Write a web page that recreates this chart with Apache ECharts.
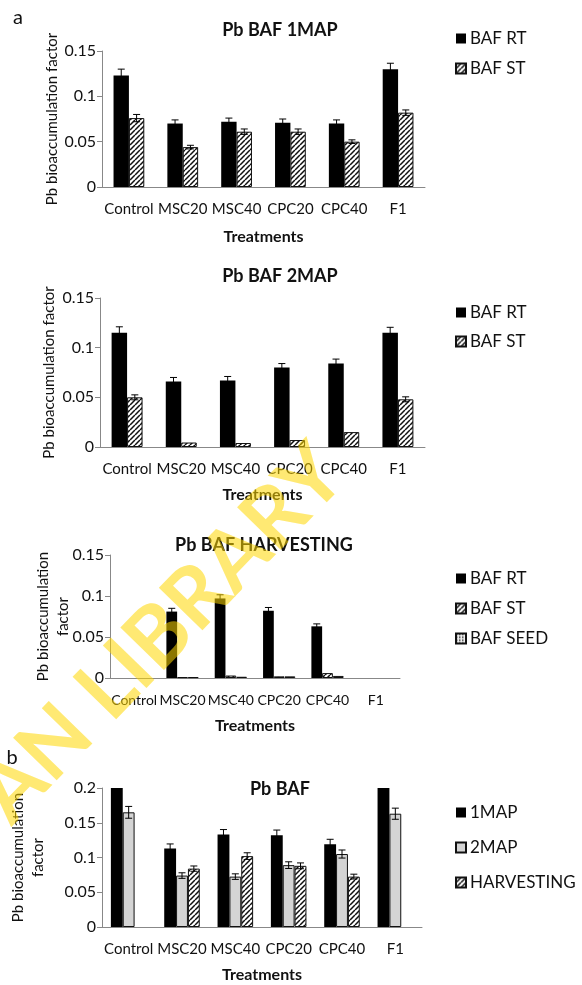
<!DOCTYPE html>
<html><head><meta charset="utf-8">
<script src="https://cdn.jsdelivr.net/npm/echarts/dist/echarts.min.js"></script>
<style>html,body{margin:0;padding:0;background:#fff}#c{width:582px;height:985px}</style>
</head><body><div id="c"></div>
<script>
const categories = ['Control','MSC20','MSC40','CPC20','CPC40','F1'];
const yTicksA = [0, 0.05, 0.1, 0.15];
const yTicksB = [0, 0.05, 0.1, 0.15, 0.2];
// Panel a - 1MAP
const map1RT = [0.123, 0.070, 0.072, 0.071, 0.070, 0.130];
const map1RTErr = [0.007, 0.004, 0.004, 0.004, 0.004, 0.0065];
const map1ST = [0.076, 0.044, 0.061, 0.061, 0.050, 0.082];
const map1STErr = [0.004, 0.002, 0.003, 0.003, 0.002, 0.003];
// Panel a - 2MAP
const map2RT = [0.115, 0.066, 0.067, 0.080, 0.084, 0.115];
const map2RTErr = [0.006, 0.004, 0.004, 0.004, 0.0045, 0.0055];
const map2ST = [0.050, 0.0045, 0.004, 0.007, 0.015, 0.048];
const map2STErr = [0.0025, 0, 0, 0, 0, 0.0025];
// Panel a - HARVESTING
const harvRT = [null, 0.081, 0.097, 0.082, 0.063, null];
const harvRTErr = [0, 0.004, 0.0045, 0.004, 0.003, 0];
const harvST = [null, 0.001, 0.003, 0.002, 0.006, null];
const harvSEED = [null, 0.001, 0.0015, 0.002, 0.0025, null];
// Panel b
const baf1MAP = [0.2, 0.113, 0.133, 0.132, 0.119, 0.2];
const baf1MAPErr = [0, 0.0065, 0.0072, 0.0075, 0.0072, 0];
const baf2MAP = [0.165, 0.074, 0.0725, 0.089, 0.105, 0.163];
const baf2MAPErr = [0.0085, 0.004, 0.004, 0.0048, 0.0058, 0.008];
const bafHARV = [null, 0.084, 0.102, 0.088, 0.0725, null];
const bafHARVErr = [0, 0.0038, 0.0048, 0.0042, 0.0035, 0];

const FONT = 'Lato, "Open Sans", sans-serif';

function hatchCanvas(){
  const c = document.createElement('canvas'); c.width = c.height = 5;
  const x = c.getContext('2d');
  x.fillStyle = '#fff'; x.fillRect(0,0,5,5);
  x.strokeStyle = '#111'; x.lineWidth = 1.5; x.beginPath();
  for (const o of [-5,0,5]) { x.moveTo(o,5); x.lineTo(o+5,0); }
  x.stroke(); return c;
}
function dotCanvas(){
  const c = document.createElement('canvas'); c.width = c.height = 3;
  const x = c.getContext('2d');
  x.fillStyle = '#eee'; x.fillRect(0,0,3,3);
  x.fillStyle = '#333'; x.fillRect(0,0,1.5,1.5);
  return c;
}
const HATCH = {image: hatchCanvas(), repeat: 'repeat'};
const DOTS = {image: dotCanvas(), repeat: 'repeat'};

const grids = [
  {left:102, top:51, width:323, height:136},
  {left:100, top:298, width:325, height:149},
  {left:110, top:555, width:290, height:123},
  {left:100, top:788, width:322, height:139}
];
const yNames = ['Pb bioaccumulation factor','Pb bioaccumulation factor','Pb bioaccumulation\nfactor','Pb bioaccumulation\nfactor'];
const yNameGaps = [40, 41, 37, 54];
const xNameGaps = [42, 40, 40, 40];
const xLabelSizes = [15, 15, 14, 15];

const xAxes = grids.map((g,i)=>({
  type:'category', gridIndex:i, data:categories,
  axisLine:{lineStyle:{color:'#888', width:1}}, axisTick:{show:false},
  axisLabel:{color:'#111', fontSize:xLabelSizes[i], fontFamily:FONT, margin:15, interval:0},
  name:'Treatments', nameLocation:'middle', nameGap:xNameGaps[i], nameMoveOverlap:false,
  nameTextStyle:{color:'#111', fontSize:16, fontWeight:'bold', fontFamily:FONT}
}));
const yAxes = grids.map((g,i)=>{
  const t = i===3 ? yTicksB : yTicksA;
  return {
    type:'value', gridIndex:i, min:t[0], max:t[t.length-1], interval:t[1]-t[0],
    splitLine:{show:false},
    axisLine:{show:true, lineStyle:{color:'#888', width:1}},
    axisTick:{show:true, length:5, lineStyle:{color:'#888'}},
    axisLabel:{color:'#111', fontSize:16, fontFamily:FONT, margin:6},
    name:yNames[i], nameLocation:'middle', nameGap:yNameGaps[i], nameRotate:90, nameMoveOverlap:false,
    nameTextStyle:{color:'#111', fontSize:15, fontFamily:FONT, lineHeight:20}
  };
});

function bar(name, gi, data, color, gap){
  return {
    name, type:'bar', xAxisIndex:gi, yAxisIndex:gi, data,
    barGap:'0%', barCategoryGap:gap,
    itemStyle:{color, borderColor:'#111', borderWidth: color==='#000' ? 0 : 1},
    emphasis:{disabled:true}, animation:false
  };
}
function errSeries(gi, vals, errs, idx, n, gapFrac){
  return {
    type:'custom', xAxisIndex:gi, yAxisIndex:gi, z:10, silent:true, animation:false,
    data: vals.map((v,i)=>[i, v, errs[i]]).filter(d=>d[1]!=null && d[2]>0),
    renderItem(params, api){
      const ci = api.value(0), v = api.value(1), e = api.value(2);
      const catW = api.size([1,0])[0];
      const bw = catW*(1-gapFrac)/n;
      const cx = api.coord([ci, v])[0] - bw*n/2 + bw*(idx+0.5);
      const yHi = api.coord([ci, v+e])[1];
      const yLo = api.coord([ci, v-e])[1];
      const c = 3.5;
      const st = {stroke:'#000', lineWidth:1};
      return {type:'group', children:[
        {type:'line', shape:{x1:cx,y1:yHi,x2:cx,y2:yLo}, style:st},
        {type:'line', shape:{x1:cx-c,y1:yHi,x2:cx+c,y2:yHi}, style:st},
        {type:'line', shape:{x1:cx-c,y1:yLo,x2:cx+c,y2:yLo}, style:st}
      ]};
    }
  };
}
const g2 = 1.5/3.5, g3 = 1.5/4.5;
const G2 = (g2*100).toFixed(2)+'%', G3 = (g3*100).toFixed(2)+'%';

const series = [
  bar('BAF RT', 0, map1RT, '#000', G2),
  bar('BAF ST', 0, map1ST, HATCH, G2),
  errSeries(0, map1RT, map1RTErr, 0, 2, g2),
  errSeries(0, map1ST, map1STErr, 1, 2, g2),
  bar('BAF RT', 1, map2RT, '#000', G2),
  bar('BAF ST', 1, map2ST, HATCH, G2),
  errSeries(1, map2RT, map2RTErr, 0, 2, g2),
  errSeries(1, map2ST, map2STErr, 1, 2, g2),
  bar('BAF RT', 2, harvRT, '#000', G3),
  bar('BAF ST', 2, harvST, HATCH, G3),
  bar('BAF SEED', 2, harvSEED, DOTS, G3),
  errSeries(2, harvRT, harvRTErr, 0, 3, g3),
  bar('1MAP', 3, baf1MAP, '#000', G3),
  bar('2MAP', 3, baf2MAP, '#D4D4D4', G3),
  bar('HARVESTING', 3, bafHARV, HATCH, G3),
  errSeries(3, baf1MAP, baf1MAPErr, 0, 3, g3),
  errSeries(3, baf2MAP, baf2MAPErr, 1, 3, g3),
  errSeries(3, bafHARV, bafHARVErr, 2, 3, g3)
];

function legend(top, names, gap){
  return {
    left:455, top, orient:'vertical', itemGap:gap, itemWidth:10, itemHeight:10, padding:0,
    icon:'rect', selectedMode:false, data:names,
    textStyle:{color:'#111', fontSize:17, fontFamily:FONT, padding:[0,0,0,-1]}
  };
}

function txt(x, y, text, size, bold, align){
  return {type:'text', x, y, z:50, style:{text, fill:'#111', font:(bold?'bold ':'')+size+'px '+FONT, textAlign:align||'center', textVerticalAlign:'middle'}};
}

const option = {
  backgroundColor:'#fff', animation:false,
  grid: grids, xAxis: xAxes, yAxis: yAxes, series,
  legend: [
    legend(30, ['BAF RT','BAF ST'], 13),
    legend(304, ['BAF RT','BAF ST'], 12),
    legend(570, ['BAF RT','BAF ST','BAF SEED'], 13),
    legend(804, ['1MAP','2MAP','HARVESTING'], 18)
  ],
  graphic: [
    txt(18, 18, 'a', 20, false),
    txt(12, 758, 'b', 20, false),
    txt(280, 30, 'Pb BAF 1MAP', 18, true),
    txt(280, 276, 'Pb BAF 2MAP', 18, true),
    txt(264, 545, 'Pb BAF HARVESTING', 18, true),
    txt(280, 789, 'Pb BAF', 18, true),
    {type:'text', x:-8, y:808, rotation:0.80, z:100, silent:true,
     style:{text:'AN LIBRARY', fill:'rgba(255,215,0,0.55)', font:'bold 84px '+FONT, textAlign:'left', textVerticalAlign:'middle'}}
  ]
};
const chart = echarts.init(document.getElementById('c'), null, {renderer:'canvas'});
chart.setOption(option);
</script></body></html>
